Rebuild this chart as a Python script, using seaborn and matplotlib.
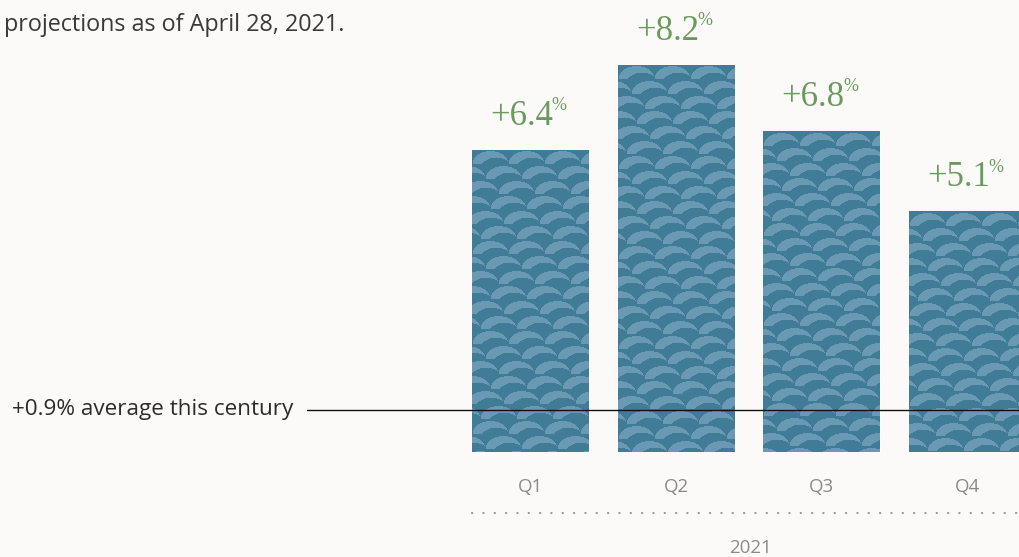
import numpy as np
import pandas as pd
import matplotlib
matplotlib.use("Agg")
import matplotlib.pyplot as plt
import seaborn as sns

# data
quarters = ["Q1", "Q2", "Q3", "Q4"]
growth = [6.4, 8.2, 6.8, 5.1]
value_labels = ["+6.4", "+8.2", "+6.8", "+5.1"]
year_label = "2021"
avg_value = 0.9
avg_label = "+0.9% average this century"
subtitle = "projections as of April 28, 2021."

BG = "#fbfaf8"
BAR_DARK = "#407c96"
BAR_LIGHT = "#6a9ab3"
GREEN = "#6b9a5f"
GRAY = "#8a8a8a"

sns.set_style("white")
plt.rcParams["font.family"] = ["Open Sans", "DejaVu Sans"]

W, H = 1019, 557
fig = plt.figure(figsize=(W / 100, H / 100), dpi=100, facecolor=BG)
ax = fig.add_axes([0, 105 / H, 1, 452 / H])
ax.set_facecolor(BG)

df = pd.DataFrame({"quarter": quarters, "growth": growth})
sns.barplot(data=df, x="quarter", y="growth", color=BAR_DARK, width=0.8,
            saturation=1, ax=ax, zorder=2)

px_unit = 145.5
ax.set_xlim(-530.5 / px_unit, (W - 530.5) / px_unit)
ax.set_ylim(0, 452 / 47.2)
ax.axis("off")


# scale-like texture clipped to each bar
def scale_texture(wpx, hpx):
    tw, th = 36, 15
    yy, xx = np.mgrid[0:hpx, 0:wpx].astype(float)
    row = np.floor(yy / th)
    u = np.mod(xx + (row % 2) * tw / 2 + (row % 3) * 5, tw)
    v = np.mod(yy, th)
    a = ((u - tw * 0.5) / (tw * 0.5)) ** 2 + ((v - th * 1.0) / (th * 0.9)) ** 2 < 1
    b = ((u - tw * 0.66) / (tw * 0.5)) ** 2 + ((v - th * 1.5) / (th * 0.95)) ** 2 < 1
    mask = a & ~b
    dark = np.array(matplotlib.colors.to_rgb(BAR_DARK))
    light = np.array(matplotlib.colors.to_rgb(BAR_LIGHT))
    img = np.where(mask[..., None], light, dark)
    return img


for i, patch in enumerate(ax.patches):
    x0, w = patch.get_x(), patch.get_width()
    h = patch.get_height()
    p0 = ax.transData.transform((x0, 0))
    p1 = ax.transData.transform((x0 + w, h))
    wpx = int(abs(p1[0] - p0[0])) + 1
    hpx = int(abs(p1[1] - p0[1])) + 1
    tex = scale_texture(wpx, hpx)
    im = ax.imshow(tex, extent=(x0, x0 + w, 0, h), aspect="auto",
                   interpolation="nearest", zorder=2.5)
    im.set_clip_path(patch)

    t = ax.annotate(value_labels[i], xy=(i - 0.06, h), xytext=(0, 18),
                    textcoords="offset points", ha="center", va="baseline",
                    fontsize=25, color=GREEN, family="Liberation Serif")
    ax.annotate("%", xy=(1, 1), xycoords=t, xytext=(-1, 2),
                textcoords="offset points", ha="left", va="top",
                fontsize=13, color=GREEN, family="Liberation Serif")

# average line
x_start = (307 - 530.5) / px_unit
ax.plot([x_start, ax.get_xlim()[1]], [avg_value, avg_value], color="#111111",
        lw=1.0, zorder=4)
ax.text(x_start - 14 / px_unit, avg_value, avg_label, ha="right", va="center",
        fontsize=16.2, color="#2b2b2b")

# quarter labels, dotted rule and year
for i, q in enumerate(quarters):
    fig.text((530.5 + i * px_unit) / W, 1 - 487 / H, q, ha="center", va="center",
             fontsize=13.5, color=GRAY)
fig.add_artist(plt.Line2D([472 / W, 1], [1 - 513 / H, 1 - 513 / H],
                          color="#9a9a9a", lw=1.6, linestyle=(0, (0.1, 5)),
                          dash_capstyle="round"))
fig.text(750 / W, 1 - 548 / H, year_label, ha="center", va="center",
         fontsize=13.5, color=GRAY)

fig.text(345 / W, 1 - 25 / H, subtitle, ha="right", va="center", fontsize=16.8,
         color="#3a3a3a")

fig.savefig("out.png", dpi=100, facecolor=BG)
